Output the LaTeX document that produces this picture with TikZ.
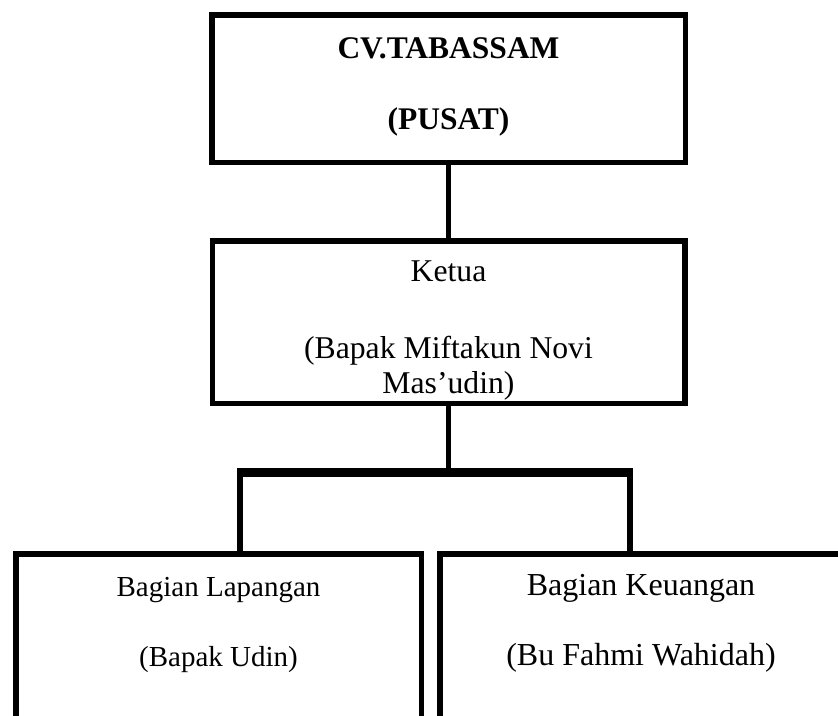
\documentclass[tikz,border=0pt]{standalone}
\usepackage{fontspec}
\setmainfont{Liberation Serif}
\usetikzlibrary{positioning,calc}

\begin{document}
\begin{tikzpicture}[
    x=1pt, y=-1pt,
    box/.style={rectangle, draw, line width=5.5pt, align=center,
                inner xsep=0pt, inner ysep=0pt, outer sep=0pt},
    link/.style={line width=5.5pt},
    bar/.style={line width=9pt}
]
\useasboundingbox (0,0) rectangle (838,715);
\clip (0,0) rectangle (838,715);

% Top level
\node[box, anchor=north, minimum width=473.5pt, text height=114.75pt, text depth=32.75pt,
      font=\fontsize{31.5}{71}\selectfont\bfseries] (pusat) at (448.5,14.75) {CV.TABASSAM\\(PUSAT)};
\node[box, below=78.5pt of pusat, minimum width=472.5pt, text height=152.25pt, text depth=10.25pt,
      font=\fontsize{31.7}{35}\selectfont] (ketua) {Ketua\\[42pt](Bapak Miftakun Novi\\Mas'udin)};

% Bottom level (cut off by the page)
\node[box, anchor=north, minimum width=405.5pt, text height=112.75pt, text depth=250pt,
      font=\fontsize{29}{70}\selectfont] (lapangan) at (218.5,553.75) {Bagian Lapangan\\(Bapak Udin)};
\node[box, anchor=north, minimum width=402.5pt, text height=111.75pt, text depth=250pt,
      font=\fontsize{32}{70}\selectfont] (keuangan) at (641,553.75) {Bagian Keuangan\\(Bu Fahmi Wahidah)};

% Connectors
\coordinate (split) at (449,472.5);
\coordinate (barL) at (240,472.5);
\coordinate (barR) at (630,472.5);
\draw[link] (pusat.south) -- (ketua.north);
\draw[link] (ketua.south) -- (ketua.south |- split);
\draw[bar] ([xshift=-2.75pt]barL) -- ([xshift=2.75pt]barR);
\draw[link] (barL) -- (barL |- lapangan.north);
\draw[link] (barR) -- (barR |- keuangan.north);

\end{tikzpicture}
\end{document}
